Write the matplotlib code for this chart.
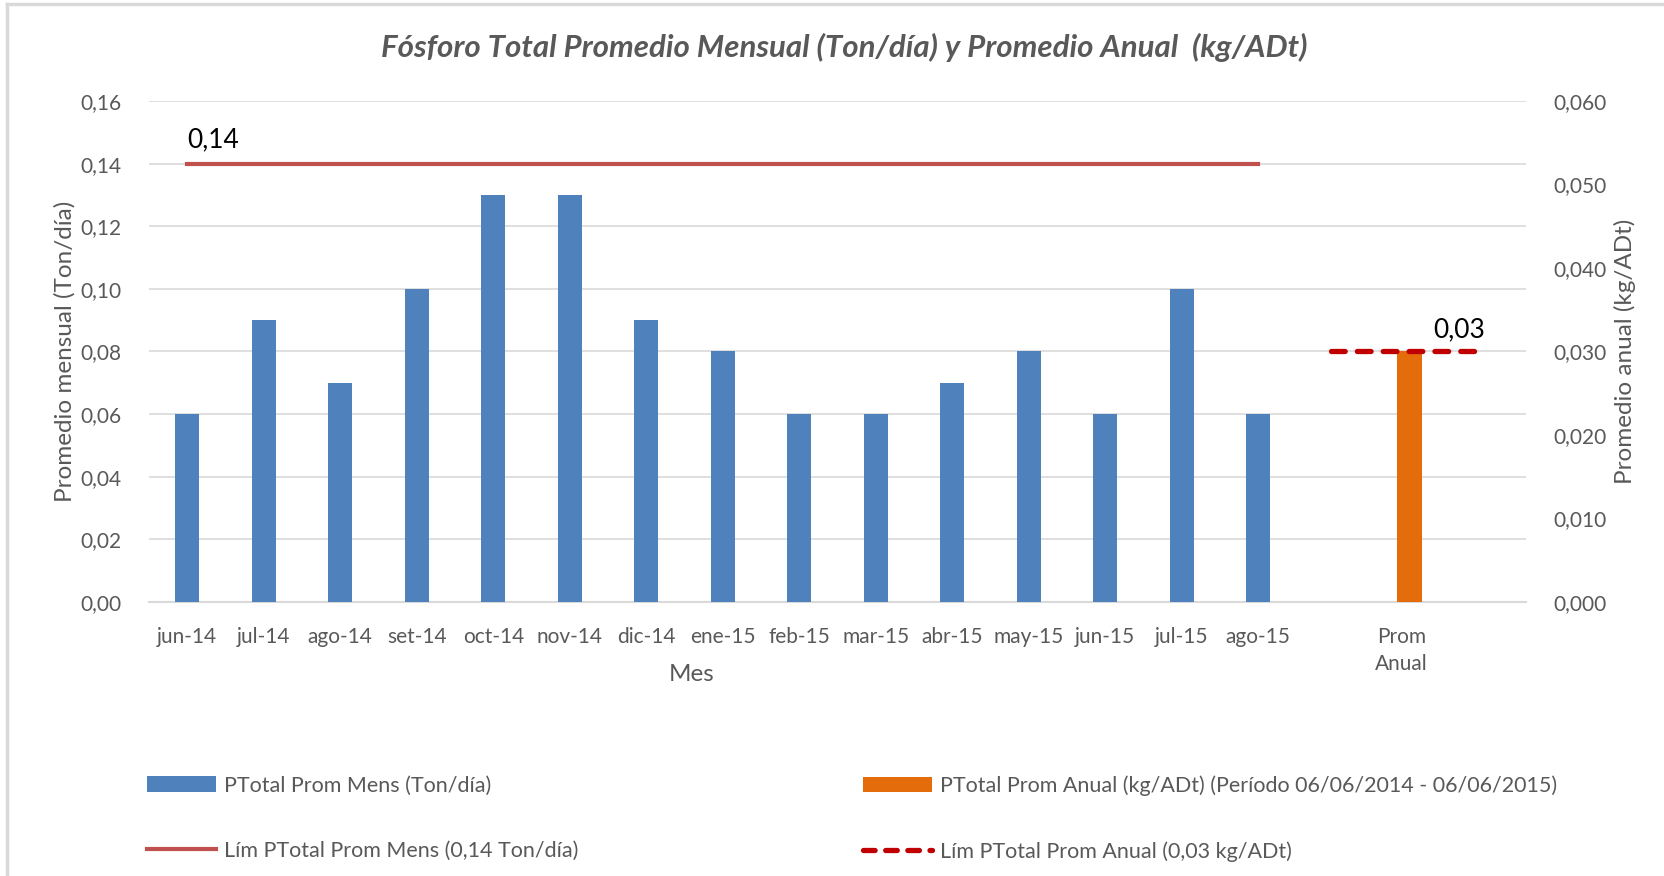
import numpy as np
import matplotlib
matplotlib.use("Agg")
import matplotlib.pyplot as plt
from matplotlib.lines import Line2D
from matplotlib.patches import Patch
from matplotlib.ticker import FuncFormatter

plt.rcParams['font.family'] = ['Lato', 'DejaVu Sans']

meses = ['jun-14', 'jul-14', 'ago-14', 'set-14', 'oct-14', 'nov-14', 'dic-14', 'ene-15',
         'feb-15', 'mar-15', 'abr-15', 'may-15', 'jun-15', 'jul-15', 'ago-15']
ptotal_mens = [0.06, 0.09, 0.07, 0.10, 0.13, 0.13, 0.09, 0.08,
               0.06, 0.06, 0.07, 0.08, 0.06, 0.10, 0.06]
ptotal_anual = 0.03
lim_mens = 0.14
lim_anual = 0.03

azul = '#4F81BD'
naranja = '#E46C0A'
rojo = '#C0504D'
rojo_osc = '#C00000'
gris_txt = '#595959'
gris_lin = '#D9D9D9'

fig = plt.figure(figsize=(16.65, 8.76), dpi=100)
ax = fig.add_axes([0.0895, 0.3128, 0.8270, 0.5719])
ax2 = ax.twinx()

x = np.arange(len(meses))
x_prom = len(meses) + 0.87   # posición de la categoría "Prom Anual"
ancho = 0.31

ax.bar(x, ptotal_mens, width=ancho, color=azul, zorder=3)
ax.plot([x[0], x[-1]], [lim_mens, lim_mens], color=rojo, lw=3, zorder=4)
ax.text(x[0], lim_mens + 0.0035, '0,14', fontsize=19, color='black', ha='left', va='bottom')

dash = (0, (2.6, 2.3))
ax2.bar([x_prom + 0.11], [ptotal_anual], width=ancho + 0.02, color=naranja, zorder=3)
ax2.plot([x_prom - 0.92, x_prom + 0.98], [lim_anual, lim_anual], color=rojo_osc, lw=3.8,
         ls=dash, dash_capstyle='round', zorder=4)
ax2.text(x_prom + 0.42, lim_anual + 0.0011, '0,03', fontsize=19, color='black', ha='left', va='bottom')

ax.set_xlim(-0.5, 17.5)
ax.set_ylim(0, 0.16)
ax2.set_ylim(0, 0.06)
ax.set_yticks(np.arange(0, 0.161, 0.02))
ax2.set_yticks(np.arange(0, 0.061, 0.01))
ax.yaxis.set_major_formatter(FuncFormatter(lambda v, p: f'{v:.2f}'.replace('.', ',')))
ax2.yaxis.set_major_formatter(FuncFormatter(lambda v, p: f'{v:.3f}'.replace('.', ',')))

ax.set_xticks(list(x) + [x_prom])
ax.set_xticklabels(meses + ['Prom\nAnual'])

ax.grid(axis='y', color=gris_lin, lw=1.2, zorder=0)
ax.set_axisbelow(True)
for a in (ax, ax2):
    for s in a.spines.values():
        s.set_visible(False)
    a.tick_params(length=0, labelsize=15, labelcolor=gris_txt)
ax.spines['bottom'].set_visible(True)
ax.spines['bottom'].set_color(gris_lin)
ax.spines['bottom'].set_linewidth(1.5)
ax.tick_params(axis='x', pad=18)
ax.tick_params(axis='y', pad=20)
ax2.tick_params(axis='y', pad=20)
for lbl in ax.get_xticklabels():
    lbl.set_linespacing(1.45)

ax.set_ylabel('Promedio mensual (Ton/día)', fontsize=17.5, color=gris_txt, labelpad=3)
ax2.set_ylabel('Promedio anual (kg/ADt)', fontsize=17.5, color=gris_txt, labelpad=5)
ax.set_xlabel('Mes', fontsize=17.5, color=gris_txt)
ax.xaxis.set_label_coords(0.394, -0.124)

fig.text(0.5068, 0.946, 'Fósforo Total Promedio Mensual (Ton/día) y Promedio Anual  (kg/ADt)',
         fontsize=22.5, fontstyle='italic', fontweight='bold', color=gris_txt, ha='center', va='center')

h_mens = Patch(facecolor=azul)
h_lim_mens = Line2D([], [], color=rojo, lw=3)
h_anual = Patch(facecolor=naranja)
h_lim_anual = Line2D([], [], color=rojo_osc, lw=3.8, ls=(0, (2.2, 2.0)), dash_capstyle='round')

kw = dict(frameon=False, fontsize=15.5, labelcolor=gris_txt, handlelength=3.2, handleheight=0.7,
          labelspacing=2.1, handletextpad=0.35, borderpad=0)
fig.legend([h_mens, h_lim_mens], ['PTotal Prom Mens (Ton/día)', 'Lím PTotal Prom Mens (0,14 Ton/día)'],
           loc='upper left', bbox_to_anchor=(0.082, 0.127), **kw)
fig.legend([h_anual, h_lim_anual],
           ['PTotal Prom Anual (kg/ADt) (Período 06/06/2014 - 06/06/2015)', 'Lím PTotal Prom Anual (0,03 kg/ADt)'],
           loc='upper left', bbox_to_anchor=(0.512, 0.127), **kw)

# marco del gráfico
fig.add_artist(Line2D([0.004, 1.0], [0.996, 0.996], color=gris_lin, lw=2.5, transform=fig.transFigure))
fig.add_artist(Line2D([0.004, 0.004], [0.0, 0.996], color=gris_lin, lw=2.5, transform=fig.transFigure))

fig.savefig('out.png', dpi=100)
